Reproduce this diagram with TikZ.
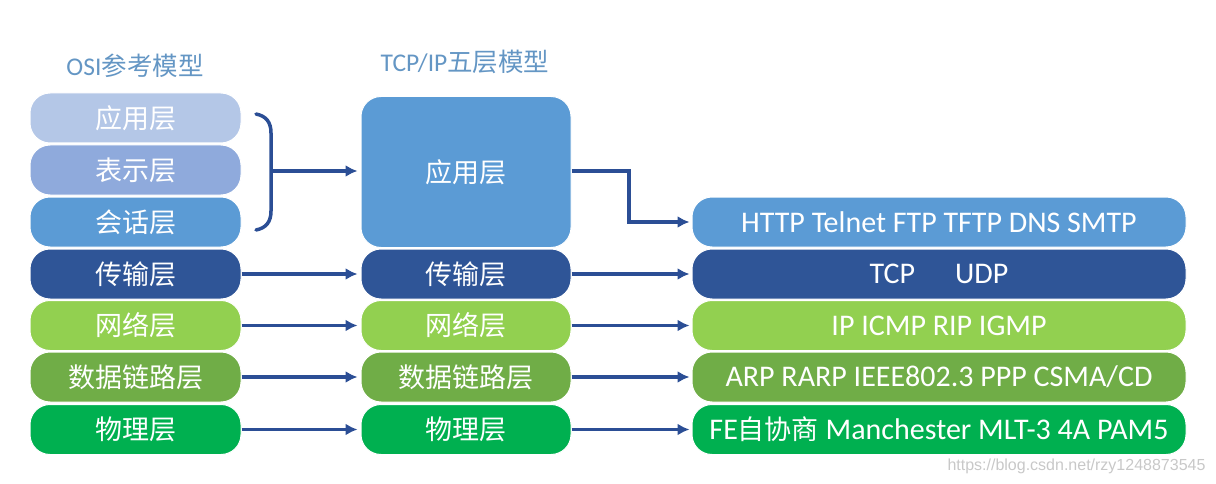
\documentclass[tikz,border=0pt]{standalone}
\usepackage{fontspec}
\setmainfont{Carlito}
\newfontfamily\cjk{Noto Sans CJK SC}
\newfontfamily\wmfont{Liberation Sans}
\usetikzlibrary{arrows.meta}
\definecolor{cApp}{HTML}{B4C7E7}
\definecolor{cPre}{HTML}{8FAADC}
\definecolor{cSes}{HTML}{5B9BD5}
\definecolor{cTra}{HTML}{2F5597}
\definecolor{cNet}{HTML}{92D050}
\definecolor{cDat}{HTML}{70AD47}
\definecolor{cPhy}{HTML}{00B050}
\definecolor{cArr}{HTML}{2B4E95}
\definecolor{cTitle}{HTML}{6496C4}
\definecolor{cWm}{HTML}{C8C8C8}
\begin{document}
\begin{tikzpicture}[x=1pt,y=-1pt,
  layer/.style={rectangle, rounded corners=20pt, draw=white, line width=1pt,
    text=white, inner sep=0pt, minimum height=50pt, font=\fontsize{27}{30}\selectfont},
  lcol/.style={layer, minimum width=211pt},
  mcol/.style={layer, minimum width=210pt},
  rcol/.style={layer, minimum width=494pt, font=\fontsize{30}{33}\selectfont},
  conn/.style={draw=cArr, line width=3.5pt, -{Latex[length=12pt,width=12pt]}},
  title/.style={text=cTitle, font=\fontsize{25.5}{28}\selectfont}]
\useasboundingbox (0,0) rectangle (1216,484);
% titles
\node[title] (t1) at (135,66) {OSI{\cjk 参考模型}};
\node[title] (t2) at (465,62) {TCP/IP{\cjk 五层模型}};
% left column
\node[lcol, fill=cApp] (lapp) at (135.5,118) {\cjk 应用层};
\node[lcol, fill=cPre] (lpre) at (135.5,170) {\cjk 表示层};
\node[lcol, fill=cSes] (lses) at (135.5,222) {\cjk 会话层};
\node[lcol, fill=cTra] (ltra) at (135.5,274) {\cjk 传输层};
\node[lcol, fill=cNet] (lnet) at (135.5,325.5) {\cjk 网络层};
\node[lcol, fill=cDat] (ldat) at (135.5,377) {\cjk 数据链路层};
\node[lcol, fill=cPhy] (lphy) at (135.5,429.5) {\cjk 物理层};
% middle column
\node[mcol, fill=cSes, minimum height=151pt] (mapp) at (466,172) {\cjk 应用层};
\node[mcol, fill=cTra] (mtra) at (466,274) {\cjk 传输层};
\node[mcol, fill=cNet] (mnet) at (466,325.5) {\cjk 网络层};
\node[mcol, fill=cDat] (mdat) at (466,377) {\cjk 数据链路层};
\node[mcol, fill=cPhy] (mphy) at (466,429.5) {\cjk 物理层};
% right column
\node[rcol, fill=cSes] (rapp) at (939,222) {HTTP Telnet FTP TFTP DNS SMTP};
\node[rcol, fill=cTra] (rtra) at (939,274) {TCP\hspace{40pt}UDP};
\node[rcol, fill=cNet] (rnet) at (939,325.5) {IP ICMP RIP IGMP};
\node[rcol, fill=cDat] (rdat) at (939,377) {ARP RARP IEEE802.3 PPP CSMA/CD};
\node[rcol, fill=cPhy] (rphy) at (939,429.5) {FE{\cjk\fontsize{27}{30}\selectfont 自协商} Manchester MLT-3 4A PAM5};
% brace
\coordinate (bt) at (256,114);
\coordinate (bb) at (256,230);
\coordinate (bm) at (271,171);
\draw[cArr, line width=3.5pt, line cap=round]
  (bt) .. controls (266,116) and (271,122) .. (271,133) -- (271,211)
  .. controls (271,222) and (266,228) .. (bb);
\draw[conn, shorten >=3pt] (bm) -- (bm -| mapp.west);
% application arrow
\coordinate (bend) at (629,171);
\draw[conn, shorten >=2pt] (mapp.east |- bend) -- (bend) |- (rapp.west);
% row arrows
\foreach \a/\b in {ltra/mtra, lnet/mnet, ldat/mdat, lphy/mphy}
  \draw[conn, shorten >=3pt] (\a.east) -- (\b.west);
\foreach \a/\b in {mtra/rtra, mnet/rnet, mdat/rdat, mphy/rphy}
  \draw[conn, shorten >=2pt] (\a.east) -- (\b.west);
% watermark
\node[text=cWm, font=\wmfont\fontsize{16}{18}\selectfont, anchor=east] (wm) at (1209,466) {https://blog.csdn.net/rzy1248873545};
\end{tikzpicture}
\end{document}
